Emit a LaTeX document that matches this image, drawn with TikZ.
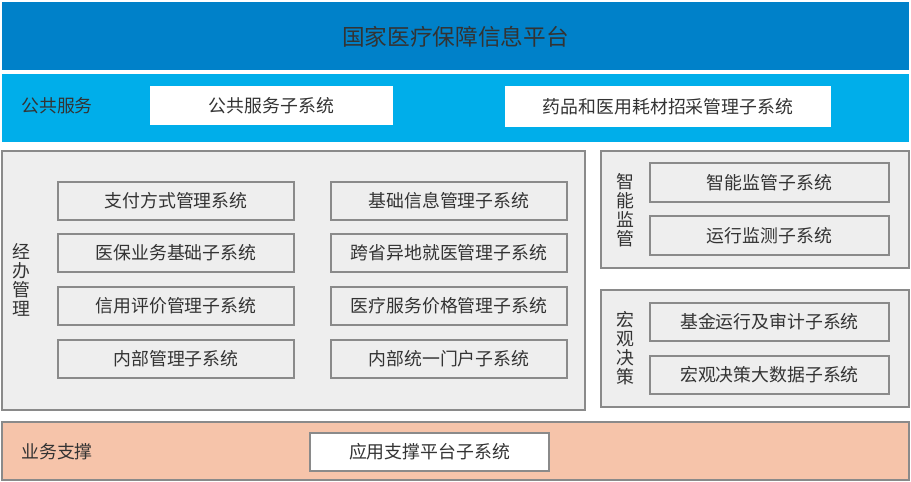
\documentclass[tikz,border=0pt]{standalone}
\usepackage{fontspec}
\setmainfont{Noto Sans CJK SC}
\definecolor{topblue}{HTML}{0081C9}
\definecolor{lightblue}{HTML}{00AEEA}
\definecolor{panelgray}{HTML}{EEEEEE}
\definecolor{edgegray}{HTML}{8A8A8A}
\definecolor{peach}{HTML}{F6C4AA}
\definecolor{txt}{HTML}{333333}
\begin{document}
\begin{tikzpicture}[x=0.75pt,y=-0.75pt,
  bar/.style={draw=none},
  panel/.style={draw=edgegray,line width=0.9pt,fill=panelgray},
  sub/.style={draw=edgegray,line width=0.9pt,fill=panelgray},
  wsub/.style={draw=none,fill=white},
  lbl/.style={text=txt,font=\fontsize{13.4}{15}\selectfont},
  vlbl/.style={text=txt,font=\fontsize{13.4}{14.4}\selectfont,align=center}]
\useasboundingbox (0,0) rectangle (911,482);
\fill[white] (0,0) rectangle (911,482);
% top bar
\fill[topblue] (2,2) rectangle (909,70);
\node[text=txt,font=\fontsize{17}{20}\selectfont] (title) at (455.5,37) {国家医疗保障信息平台};
% public service
\fill[lightblue] (2,74) rectangle (909,142);
\node[lbl] (gg) at (57,106) {公共服务};
\path[wsub] (150,86) rectangle (393,125);
\node[lbl] (gg1) at (271.5,105.5) {公共服务子系统};
\path[wsub] (505,86) rectangle (831,127);
\node[lbl] (gg2) at (668,106.5) {药品和医用耗材招采管理子系统};
% left panel
\path[panel] (2,151) rectangle (585,410);
\node[vlbl] (jb) at (21,280) {经\\办\\管\\理};
\foreach \y/\a/\b in {182/支付方式管理系统/基础信息管理子系统,
                      234/医保业务基础子系统/跨省异地就医管理子系统,
                      287/信用评价管理子系统/医疗服务价格管理子系统,
                      340/内部管理子系统/内部统一门户子系统}{
  \path[sub] (58,\y) rectangle (294,\y+38);
  \node[lbl] at (176,\y+19) {\a};
  \path[sub] (331,\y) rectangle (567,\y+38);
  \node[lbl] at (449,\y+19) {\b};
}
% right panel 1
\path[panel] (601,151) rectangle (909,268);
\node[vlbl] (zn) at (625,210) {智\\能\\监\\管};
\path[sub] (650,163) rectangle (889,202);
\node[lbl] (zn1) at (769.5,182.5) {智能监管子系统};
\path[sub] (650,216) rectangle (889,255);
\node[lbl] (zn2) at (769.5,235.5) {运行监测子系统};
% right panel 2
\path[panel] (601,290) rectangle (909,407);
\node[vlbl] (hg) at (625,348) {宏\\观\\决\\策};
\path[sub] (650,303) rectangle (889,341);
\node[lbl] (hg1) at (769.5,322) {基金运行及审计子系统};
\path[sub] (650,356) rectangle (889,394);
\node[lbl] (hg2) at (769.5,375) {宏观决策大数据子系统};
% bottom bar
\path[draw=edgegray,line width=0.9pt,fill=peach] (2,422) rectangle (909,480);
\node[lbl] (yw) at (57,452) {业务支撑};
\path[draw=edgegray,line width=0.9pt,fill=white] (310,433) rectangle (549,471);
\node[lbl] (yw1) at (429.5,452) {应用支撑平台子系统};
\end{tikzpicture}
\end{document}
